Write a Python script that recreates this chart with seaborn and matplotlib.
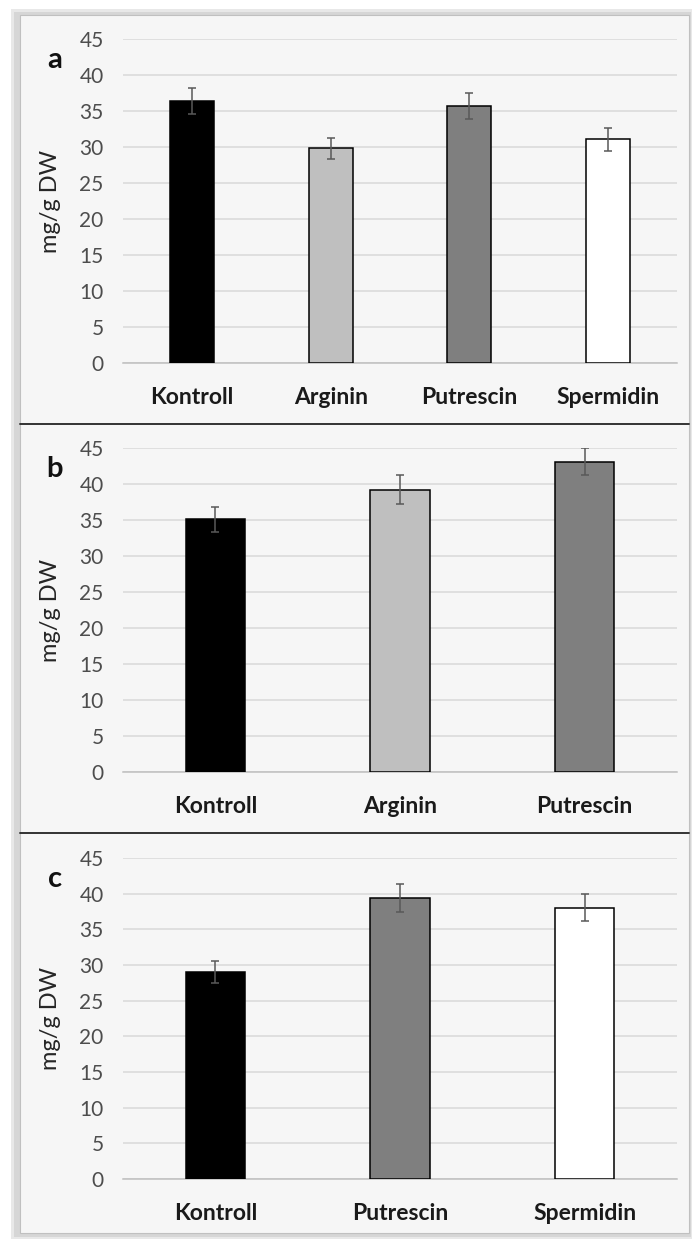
import numpy as np
import pandas as pd
import matplotlib
matplotlib.use("Agg")
import matplotlib.pyplot as plt
from matplotlib.patches import Rectangle
import seaborn as sns

# data
cats_a = ["Kontroll", "Arginin", "Putrescin", "Spermidin"]
vals_a = [36.4, 29.8, 35.7, 31.1]
err_a = [1.8, 1.5, 1.8, 1.6]

cats_b = ["Kontroll", "Arginin", "Putrescin"]
vals_b = [35.1, 39.2, 43.1]
err_b = [1.7, 2.0, 1.9]

cats_c = ["Kontroll", "Putrescin", "Spermidin"]
vals_c = [29.0, 39.4, 38.0]
err_c = [1.5, 2.0, 1.9]

panel_letters = ["a", "b", "c"]
y_ticks = [0, 5, 10, 15, 20, 25, 30, 35, 40, 45]
ylabel = "mg/g DW"

bar_colors = {"Kontroll": "#000000", "Arginin": "#bfbfbf",
              "Putrescin": "#7f7f7f", "Spermidin": "#ffffff"}

sns.set_theme(style="white")
plt.rcParams['font.family'] = ['Lato', 'DejaVu Sans']

W, H = 692, 1239
fig = plt.figure(figsize=(W / 100, H / 100), dpi=100)
fig.patch.set_facecolor("white")

# background axes in pixel coords for the frame, shadow and separators
bg = fig.add_axes([0, 0, 1, 1], zorder=-1)
bg.set_xlim(0, W)
bg.set_ylim(H, 0)
bg.axis("off")
bg.add_patch(Rectangle((11, 9), 681, 1230, facecolor="#e8e8e8", edgecolor="none"))
bg.add_patch(Rectangle((14, 12), 677, 1225, facecolor="#d6d6d6", edgecolor="none"))
bg.add_patch(Rectangle((20, 15), 669, 1218, facecolor="#f6f6f6", edgecolor="#c0c0c0", linewidth=0.8))
for ysep in [424, 833]:
    bg.plot([20, 689], [ysep, ysep], color="#333333", linewidth=1.4)

# axes placement in pixels: (x-left, x-right, y-top(45), y-bottom(0))
boxes = [(123, 677, 39, 363), (123, 677, 448, 772), (123, 677, 858, 1179)]
panels = [(cats_a, vals_a, err_a), (cats_b, vals_b, err_b), (cats_c, vals_c, err_c)]

for (x0, x1, yt, yb), (cats, vals, errs), letter in zip(boxes, panels, panel_letters):
    ax = fig.add_axes([x0 / W, 1 - yb / H, (x1 - x0) / W, (yb - yt) / H])
    ax.set_facecolor("none")
    df = pd.DataFrame({"cat": cats, "val": vals, "err": errs})
    sns.barplot(data=df, x="cat", y="val", hue="cat", palette=bar_colors, legend=False,
                width=0.32, edgecolor="black", linewidth=1.1, errorbar=None, ax=ax, zorder=3)
    ax.errorbar(np.arange(len(cats)), df["val"], yerr=df["err"], fmt="none",
                ecolor="#595959", elinewidth=1.1, capsize=3.2, capthick=1.1, zorder=4)

    n = len(cats)
    ax.set_xlim(-0.5, n - 0.5)
    ax.set_ylim(0, 45)
    ax.set_yticks(y_ticks)
    ax.yaxis.grid(True, color="#d9d9d9", linewidth=1.1)
    ax.set_axisbelow(True)
    for s in ["top", "right", "left"]:
        ax.spines[s].set_visible(False)
    ax.spines["bottom"].set_color("#bfbfbf")
    ax.spines["bottom"].set_linewidth(1.1)

    ax.set_xticks(np.arange(-0.5, n), minor=True)
    ax.tick_params(axis="x", which="minor", length=5, color="#bfbfbf", width=1.0)
    ax.tick_params(axis="x", which="major", length=0, pad=17)
    ax.tick_params(axis="y", length=0, pad=14, labelsize=15, labelcolor="#4d4d4d")
    for lab in ax.get_xticklabels():
        lab.set_fontweight("bold")
        lab.set_fontsize(16.5)
        lab.set_color("#1a1a1a")

    ax.set_xlabel("")
    ax.set_ylabel(ylabel, fontsize=17, color="#262626")
    ax.yaxis.set_label_coords(-0.112, 0.5)
    ax.text(-0.123, 0.935, letter, transform=ax.transAxes, ha="center", va="center",
            fontsize=21, fontweight="bold", color="#111111")

fig.savefig("out.png", dpi=100, facecolor=fig.get_facecolor())
